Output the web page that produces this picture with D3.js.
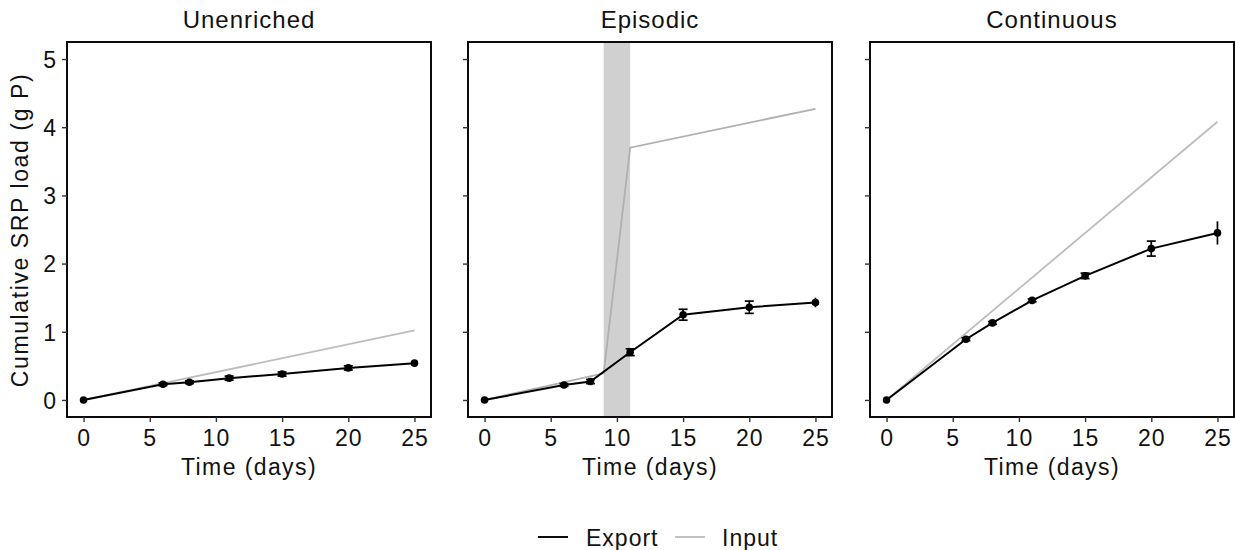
<!DOCTYPE html>
<html><head><meta charset="utf-8">
<script src="https://cdn.jsdelivr.net/npm/d3@7"></script>
<style>body{margin:0;background:#fff}text{font-family:"Liberation Sans",Arial,sans-serif;fill:#111}</style>
</head><body><svg id="c" width="1235" height="550"></svg>
<script>
const panels = ["Unenriched","Episodic","Continuous"];
const days = [0,6,8,11,15,20,25];
const exportUnenriched = [0,0.23,0.26,0.32,0.38,0.47,0.54];
const errUnenriched    = [0,0.02,0.02,0.03,0.03,0.03,0.02];
const exportEpisodic   = [0,0.22,0.27,0.70,1.25,1.36,1.43];
const errEpisodic      = [0,0.02,0.03,0.05,0.08,0.09,0.07];
const exportContinuous = [0,0.89,1.13,1.46,1.82,2.22,2.45];
const errContinuous    = [0,0.02,0.02,0.02,0.04,0.11,0.17];
const inputUnenriched  = {days:[0,25], values:[0,1.02]};
const inputEpisodic    = {days:[0,9,11,25], values:[0,0.39,3.70,4.27]};
const inputContinuous  = {days:[0,25], values:[0,4.08]};
const pulseWindow = [9,11];
const xTicks = [0,5,10,15,20,25];
const yTicks = [0,1,2,3,4,5];

const exportsAll = [exportUnenriched, exportEpisodic, exportContinuous];
const errsAll = [errUnenriched, errEpisodic, errContinuous];
const inputsAll = [inputUnenriched, inputEpisodic, inputContinuous];

const svg = d3.select("#c");
const lefts = [67, 468, 870];
const pw = 364, pTop = 42, pBottom = 417;
const y = d3.scaleLinear().domain([-0.25,5.25]).range([pBottom, pTop]);
const black = "#000", grey = "#bdbdbd";
const FF = "Liberation Sans, Arial, sans-serif";

panels.forEach((name, i) => {
  const x = d3.scaleLinear().domain([-1.25,26.25]).range([lefts[i], lefts[i]+pw]);
  const g = svg.append("g");
  if (i === 1) {
    g.append("rect").attr("x", x(pulseWindow[0])).attr("y", pTop)
      .attr("width", x(pulseWindow[1]) - x(pulseWindow[0])).attr("height", pBottom - pTop)
      .attr("fill", "#d0d0d0");
  }
  const line = d3.line().x(d => x(d[0])).y(d => y(d[1]));
  const inp = inputsAll[i];
  g.append("path").datum(inp.days.map((d,k)=>[d, inp.values[k]]))
    .attr("d", line).attr("fill","none").attr("stroke", i===1 ? "#b0b0b0" : grey).attr("stroke-width",1.8);
  const ex = exportsAll[i], er = errsAll[i];
  const pts = days.map((d,k)=>[d, ex[k], er[k]]);
  g.append("path").datum(pts).attr("d", line).attr("fill","none").attr("stroke",black).attr("stroke-width",2);
  pts.forEach((p, k) => {
    if (p[2] > 0) {
      g.append("line").attr("x1", x(p[0])).attr("x2", x(p[0]))
        .attr("y1", y(p[1]-p[2])).attr("y2", y(p[1]+p[2])).attr("stroke",black).attr("stroke-width",1.7);
      if (p[0] !== 25) {
        [p[1]-p[2], p[1]+p[2]].forEach(v => g.append("line")
          .attr("x1", x(p[0])-4.5).attr("x2", x(p[0])+4.5).attr("y1", y(v)).attr("y2", y(v))
          .attr("stroke", black).attr("stroke-width",1.7));
      }
    }
    g.append("circle").attr("cx", x(p[0])).attr("cy", y(p[1])).attr("r", 3.8).attr("fill", black);
  });
  g.append("rect").attr("x", lefts[i]).attr("y", pTop).attr("width", pw).attr("height", pBottom-pTop)
    .attr("fill","none").attr("stroke",black).attr("stroke-width",1.9);
  const xa = g.append("g").attr("transform", `translate(0,${pBottom})`)
    .call(d3.axisBottom(x).tickValues(xTicks).tickSize(5).tickPadding(4).tickFormat(d3.format("d")));
  xa.select(".domain").remove();
  xa.selectAll("line").attr("stroke","#333").attr("stroke-width",1.4);
  xa.selectAll("text").attr("font-size",23).attr("y",29).attr("dy",null)
    .style("font-family",FF).style("letter-spacing","1px").attr("fill","#111");
  const ya = g.append("g").attr("transform", `translate(${lefts[i]},0)`)
    .call(d3.axisLeft(y).tickValues(yTicks).tickSize(5).tickPadding(4).tickFormat(i===0 ? d3.format("d") : ""));
  ya.select(".domain").remove();
  ya.selectAll("line").attr("stroke","#333").attr("stroke-width",1.4);
  ya.selectAll("text").attr("font-size",23).attr("x",-11).attr("dy","0.36em")
    .style("font-family",FF).attr("fill","#111");
  g.append("text").attr("x", lefts[i]+pw/2).attr("y", 28).attr("text-anchor","middle")
    .attr("font-size",24).style("letter-spacing","1px").text(name);
  g.append("text").attr("x", x(12.5)).attr("y", 475).attr("text-anchor","middle")
    .attr("font-size",23).style("letter-spacing","1.4px").text("Time (days)");
});

svg.append("text").attr("transform","translate(28,230) rotate(-90)").attr("text-anchor","middle")
  .attr("font-size",23).style("letter-spacing","1.6px").text("Cumulative SRP load (g P)");

const lg = svg.append("g");
lg.append("line").attr("x1",538).attr("x2",568).attr("y1",537).attr("y2",537).attr("stroke",black).attr("stroke-width",1.9);
lg.append("text").attr("x",586).attr("y",546).attr("font-size",23).style("letter-spacing","1px").text("Export");
lg.append("line").attr("x1",675).attr("x2",705).attr("y1",537).attr("y2",537).attr("stroke",grey).attr("stroke-width",1.9);
lg.append("text").attr("x",722).attr("y",546).attr("font-size",23).style("letter-spacing","1px").text("Input");
</script></body></html>
